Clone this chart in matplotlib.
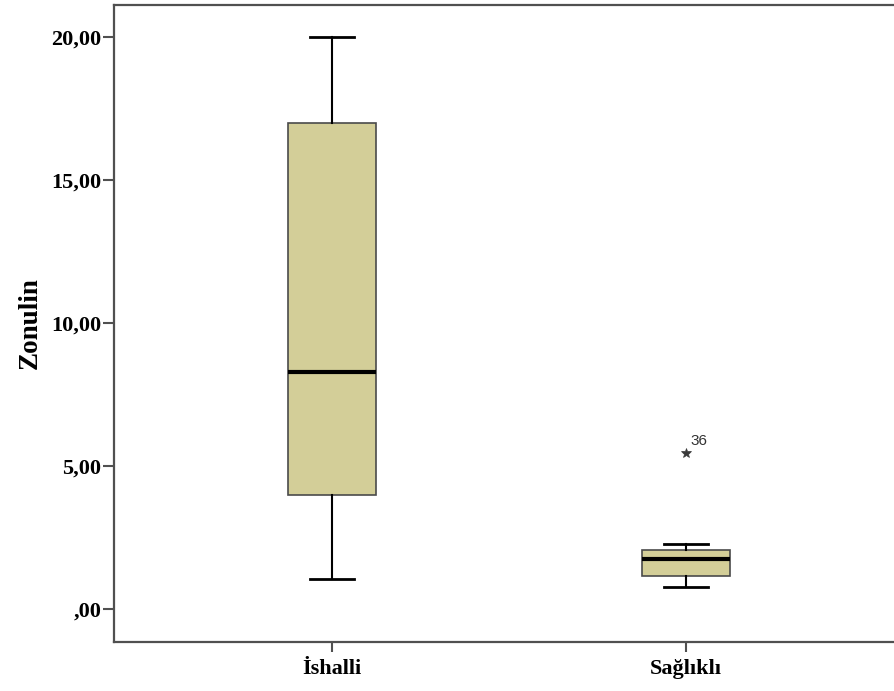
import matplotlib
matplotlib.use("Agg")
import matplotlib.pyplot as plt

# group labels and box statistics
groups = ["İshalli", "Sağlıklı"]
q1 = [4.0, 1.15]
median = [8.3, 1.75]
q3 = [17.0, 2.06]
whis_lo = [1.05, 0.77]
whis_hi = [20.0, 2.26]
fliers = [[], [5.45]]
flier_ids = [[], ["36"]]

yticks = [0, 5, 10, 15, 20]
ytick_labels = [",00", "5,00", "10,00", "15,00", "20,00"]

serif = ["Liberation Serif", "DejaVu Serif"]

fig = plt.figure(figsize=(8.95, 6.91), dpi=100)
ax = fig.add_axes([0.127, 0.071, 0.873, 0.922])

stats = []
for i, g in enumerate(groups):
    stats.append(dict(label=g, q1=q1[i], med=median[i], q3=q3[i],
                      whislo=whis_lo[i], whishi=whis_hi[i], fliers=fliers[i]))

positions = list(range(1, len(groups) + 1))
ax.bxp(stats, positions=positions, widths=0.25, patch_artist=True,
       showfliers=True,
       boxprops=dict(facecolor="#d3ce98", edgecolor="#4a4a4a", linewidth=1.2),
       medianprops=dict(color="black", linewidth=3),
       whiskerprops=dict(color="black", linewidth=1.5),
       capprops=dict(color="black", linewidth=2),
       capwidths=0.125,
       flierprops=dict(marker="*", markersize=7.5, markerfacecolor="#3a3a3a",
                       markeredgecolor="#3a3a3a", markeredgewidth=0.5,
                       linestyle="none"))

for pos, vals, ids in zip(positions, fliers, flier_ids):
    for v, t in zip(vals, ids):
        ax.annotate(t, (pos, v), xytext=(3, 6), textcoords="offset points",
                    fontsize=11, color="#333333", family="Liberation Sans")

ax.set_xlim(0.384, 2.59)
ax.set_ylim(-1.15, 21.12)
ax.set_yticks(yticks)
ax.set_yticklabels(ytick_labels)
ax.set_xticks(positions)
ax.set_xticklabels(groups)

for lab in ax.get_yticklabels() + ax.get_xticklabels():
    lab.set_family(serif)
    lab.set_fontweight("bold")
    lab.set_fontsize(16)

ax.set_ylabel("Zonulin", family=serif, fontweight="bold", fontsize=19.5, labelpad=6)

for s in ["left", "bottom", "top"]:
    ax.spines[s].set_color("#505050")
    ax.spines[s].set_linewidth(1.6)
ax.spines["right"].set_visible(False)
ax.tick_params(axis="y", length=8, width=1.5, color="#505050", pad=1)
ax.tick_params(axis="x", length=7, width=1.5, color="#505050", pad=5)

fig.savefig("out.png", dpi=100)
